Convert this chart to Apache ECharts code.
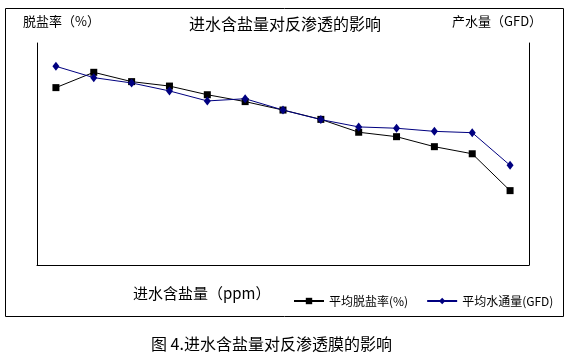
<!DOCTYPE html>
<html><head><meta charset="utf-8">
<script src="https://cdn.jsdelivr.net/npm/echarts@6/dist/echarts.min.js"></script>
<style>html,body{margin:0;padding:0;background:#fff}#c{width:573px;height:358px}</style>
</head><body><div id="c"></div>
<script>
// categories: feed water salt content samples (no tick labels shown in the original)
const categories = ['1','2','3','4','5','6','7','8','9','10','11','12','13'];
// relative values (axis range 0-100, no scale shown)
const rejection = [79.9, 86.8, 82.6, 80.6, 76.7, 73.6, 69.8, 65.6, 59.8, 57.8, 53.3, 50.1, 33.5];
const flux = [89.5, 84.4, 82.0, 78.4, 73.9, 74.9, 69.8, 65.5, 62.2, 61.6, 60.2, 59.6, 44.9];
const seriesNames = ['平均脱盐率(%)', '平均水通量(GFD)'];

const font = '"Noto Sans CJK SC", "Noto Sans", sans-serif';
const chart = echarts.init(document.getElementById('c'), null, {renderer: 'canvas'});
chart.setOption({
  animation: false,
  backgroundColor: '#fff',
  grid: {left: 37, right: 44, top: 43, bottom: 93},
  xAxis: {
    type: 'category', data: categories, boundaryGap: true,
    axisLine: {lineStyle: {color: '#000', width: 1}},
    axisTick: {show: false}, axisLabel: {show: false}
  },
  yAxis: [
    {type: 'value', min: 0, max: 100, splitLine: {show: false},
     axisLine: {show: true, lineStyle: {color: '#000'}}, axisTick: {show: false}, axisLabel: {show: false}},
    {type: 'value', min: 0, max: 100, position: 'right', splitLine: {show: false},
     axisLine: {show: true, lineStyle: {color: '#000'}}, axisTick: {show: false}, axisLabel: {show: false}}
  ],
  legend: {
    left: 288, top: 290, itemWidth: 30, itemHeight: 8, itemGap: 18,
    textStyle: {fontFamily: font, fontSize: 12, color: '#000'},
    data: seriesNames
  },
  series: [
    {name: seriesNames[0], type: 'line', yAxisIndex: 0, data: rejection,
     symbol: 'rect', symbolSize: 7, color: '#000',
     lineStyle: {color: '#000', width: 1}, itemStyle: {color: '#000'}},
    {name: seriesNames[1], type: 'line', yAxisIndex: 1, data: flux,
     symbol: 'diamond', symbolSize: [7, 9], color: '#000080',
     lineStyle: {color: '#000080', width: 1}, itemStyle: {color: '#000080'}}
  ],
  graphic: [
    {type: 'rect', shape: {x: 5.5, y: 8.5, width: 558, height: 308}, style: {fill: 'none', stroke: '#000', lineWidth: 1}, z: -1},
    {type: 'text', left: 23, top: 15, style: {text: '脱盐率（%）', font: '13px ' + font, fill: '#000'}},
    {type: 'text', left: 189, top: 16, style: {text: '进水含盐量对反渗透的影响', font: '16px ' + font, fill: '#000'}},
    {type: 'text', left: 452, top: 15, style: {text: '产水量（GFD）', font: '13px ' + font, fill: '#000'}},
    {type: 'text', left: 133, top: 286, style: {text: '进水含盐量（ppm）', font: '15px ' + font, fill: '#000'}},
    {type: 'text', left: 151, top: 336, style: {text: '图 4.进水含盐量对反渗透膜的影响', font: '16px ' + font, fill: '#000'}}
  ]
});
</script></body></html>
